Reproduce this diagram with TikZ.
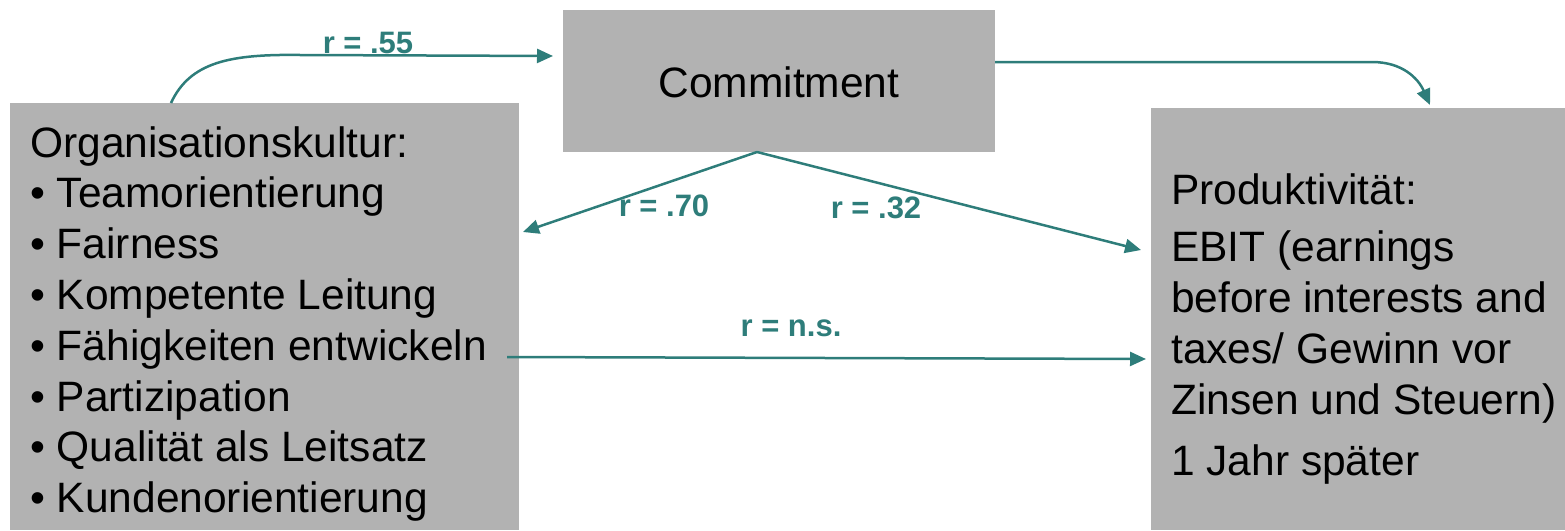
\documentclass[tikz,border=0pt]{standalone}
\usepackage{fontspec}
\setmainfont{Liberation Sans}
\usetikzlibrary{arrows.meta}
\definecolor{boxgray}{RGB}{178,178,178}
\definecolor{tealc}{RGB}{46,125,122}
\tikzset{
  panel/.style={fill=boxgray, draw=none, anchor=north west, inner sep=0pt, outer sep=0pt},
  txt/.style={anchor=base west, inner sep=0pt, font=\fontsize{42.5}{51}\selectfont, text=black},
  lbl/.style={anchor=base, inner sep=0pt, font=\fontsize{31}{36}\selectfont\bfseries, text=tealc},
  conn/.style={draw=tealc, line width=2.5pt, -{Triangle[length=16pt,width=14pt]}},
}
\begin{document}
\begin{tikzpicture}[x=1pt,y=-1pt]
\useasboundingbox (0,0) rectangle (1565,530);
% boxes
\node[panel, minimum width=509pt, minimum height=427pt] (org) at (10,103) {};
\node[panel, minimum width=432pt, minimum height=142pt] (com) at (563,10) {};
\node[panel, minimum width=414pt, minimum height=422pt] (prod) at (1151,108) {};
% texts
\node[txt, anchor=base] (comt) at (779,97) {Commitment};
\node[txt] (o0) at (30,157) {Organisationskultur:};
\node[txt] (o1) at (30,207.8) {• Teamorientierung};
\node[txt] (o2) at (30,258.6) {• Fairness};
\node[txt] (o3) at (30,309.4) {• Kompetente Leitung};
\node[txt] (o4) at (30,360.2) {• Fähigkeiten entwickeln};
\node[txt] (o5) at (30,411) {• Partizipation};
\node[txt] (o6) at (30,461.8) {• Qualität als Leitsatz};
\node[txt] (o7) at (30,512.6) {• Kundenorientierung};
\node[txt] (p0) at (1171,204) {Produktivität:};
\node[txt] (p1) at (1171,261) {EBIT (earnings};
\node[txt] (p2) at (1171,312) {before interests and};
\node[txt] (p3) at (1171,363) {taxes/ Gewinn vor};
\node[txt] (p4) at (1171,414) {Zinsen und Steuern)};
\node[txt] (p5) at (1171,475) {1 Jahr später};
% labels
\node[lbl] (l55) at (368,53) {r = .55};
\node[lbl] (l70) at (664,216) {r = .70};
\node[lbl] (l32) at (876,218) {r = .32};
\node[lbl] (lns) at (791,336) {r = n.s.};
% connector endpoints
\coordinate (s55) at (171,103);
\coordinate (e55) at (553,56);
\coordinate (sc) at (995,62);
\coordinate (ec) at (1430,105);
\coordinate (apex) at (757,152);
\coordinate (t70) at (523,232);
\coordinate (t32) at (1141,250);
\coordinate (sns) at (507,357);
\coordinate (tns) at (1146,359);
% connectors
\draw[conn] (s55) .. controls (190,62) and (230,54) .. (300,55) -- (e55);
\draw[conn] (sc) -- (1372,62) .. controls (1402,62) and (1418,78) .. (ec);
\draw[conn] (apex) -- (t70);
\draw[conn] (apex) -- (t32);
\draw[conn] (sns) -- (tns);
\end{tikzpicture}
\end{document}
